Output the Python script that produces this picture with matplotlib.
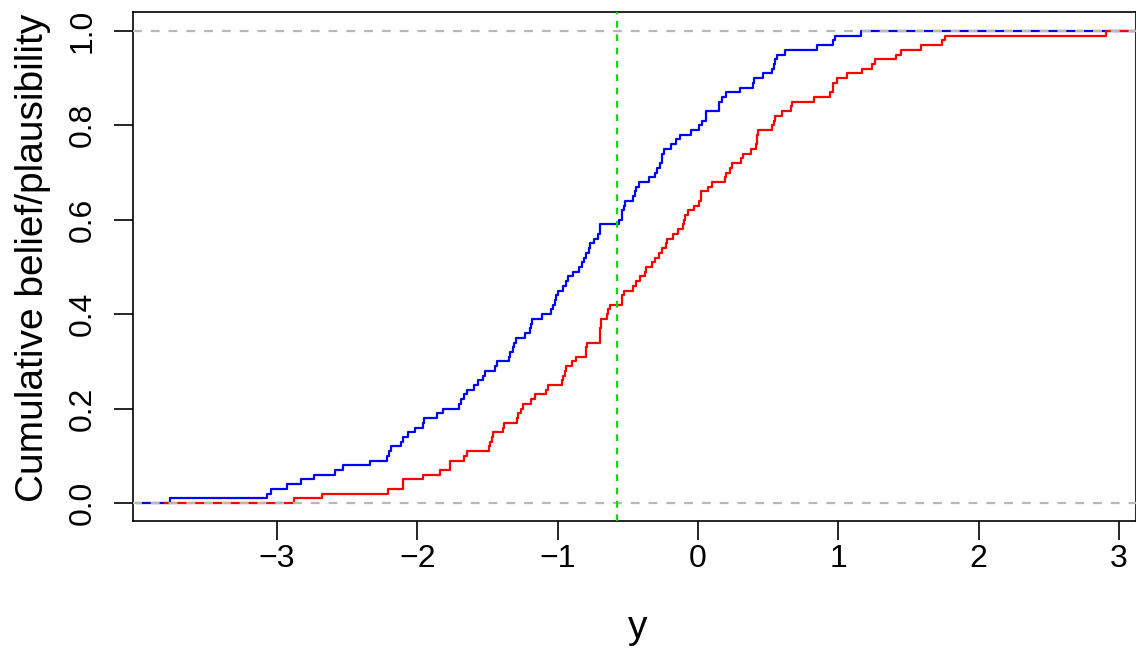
import numpy as np
import matplotlib.pyplot as plt

plt.rcParams['font.family'] = ['Liberation Sans', 'DejaVu Sans']

# sorted focal points (jump locations), 100 each
plaus_x = [-3.76, -3.07, -3.04, -2.93, -2.83, -2.74, -2.59, -2.53, -2.34, -2.22,
           -2.20, -2.19, -2.12, -2.10, -2.07, -2.02, -1.96, -1.95, -1.86, -1.82,
           -1.70, -1.69, -1.67, -1.65, -1.60, -1.57, -1.53, -1.52, -1.45, -1.43,
           -1.35, -1.34, -1.32, -1.31, -1.30, -1.23, -1.20, -1.19, -1.18, -1.11,
           -1.05, -1.03, -1.02, -1.01, -1.00, -0.96, -0.94, -0.93, -0.89, -0.85,
           -0.83, -0.81, -0.80, -0.78, -0.77, -0.74, -0.71, -0.70, -0.70, -0.56,
           -0.54, -0.54, -0.53, -0.52, -0.46, -0.45, -0.44, -0.42, -0.35, -0.31,
           -0.29, -0.27, -0.26, -0.26, -0.24, -0.19, -0.16, -0.13, -0.05, 0.01,
           0.03, 0.06, 0.06, 0.15, 0.15, 0.17, 0.20, 0.30, 0.39, 0.40,
           0.46, 0.53, 0.54, 0.55, 0.56, 0.62, 0.85, 0.96, 0.98, 1.16]

belief_x = [-2.88, -2.68, -2.21, -2.10, -2.10, -1.96, -1.84, -1.77, -1.77, -1.67,
            -1.65, -1.49, -1.48, -1.47, -1.46, -1.39, -1.38, -1.29, -1.28, -1.26,
            -1.25, -1.19, -1.16, -1.08, -1.07, -0.97, -0.96, -0.95, -0.94, -0.90,
            -0.87, -0.80, -0.80, -0.79, -0.70, -0.70, -0.70, -0.69, -0.69, -0.65,
            -0.64, -0.63, -0.54, -0.54, -0.53, -0.46, -0.44, -0.41, -0.38, -0.37,
            -0.33, -0.31, -0.28, -0.26, -0.23, -0.22, -0.18, -0.14, -0.11, -0.10,
            -0.09, -0.07, -0.03, 0.01, 0.02, 0.02, 0.07, 0.10, 0.19, 0.20,
            0.23, 0.24, 0.31, 0.32, 0.38, 0.41, 0.42, 0.42, 0.43, 0.53,
            0.54, 0.55, 0.60, 0.66, 0.67, 0.83, 0.94, 0.96, 0.96, 0.99,
            1.06, 1.17, 1.24, 1.26, 1.41, 1.45, 1.59, 1.74, 1.76, 2.91]

plaus_start, belief_start = -4.0, -3.8
x_end = 3.5
vline_x = -0.58


def step_xy(vals, start):
    vals = np.sort(np.asarray(vals))
    n = len(vals)
    xs = np.concatenate([[start], vals, [x_end]])
    ys = np.concatenate([[0.0], np.arange(1, n + 1) / n, [1.0]])
    return xs, ys


fig = plt.figure(figsize=(11.36, 6.49), dpi=100)
ax = fig.add_axes([0.1171, 0.1972, 0.8829, 0.7843])

xb, yb = step_xy(plaus_x, plaus_start)
xr, yr = step_xy(belief_x, belief_start)
ax.step(xb, yb, where='post', color='blue', lw=1.6, zorder=2)
ax.step(xr, yr, where='post', color='red', lw=1.6, zorder=3)

for h in (0, 1):
    ax.axhline(h, color='#B8B8B8', ls=(0, (4, 4)), lw=1.6, zorder=4)
ax.axvline(vline_x, color='#00E000', ls=(0, (3, 3)), lw=1.6, zorder=4)

ax.set_xlim(-4.027, 3.122)
ax.set_ylim(-0.038, 1.040)
ax.set_xticks([-3, -2, -1, 0, 1, 2, 3])
ax.set_yticks([0, 0.2, 0.4, 0.6, 0.8, 1.0])
ax.set_yticklabels(['0.0', '0.2', '0.4', '0.6', '0.8', '1.0'],
                   rotation=90, va='center')
ax.tick_params(axis='both', direction='out', length=13.5, width=1.2,
               labelsize=23)
ax.tick_params(axis='x', pad=3)
ax.tick_params(axis='y', pad=12)
for s in ax.spines.values():
    s.set_linewidth(1.2)

ax.set_xlabel('y', fontsize=28, va='top')
ax.set_ylabel('Cumulative belief/plausibility', fontsize=28)
ax.xaxis.set_label_coords(0.503, -0.175)
ax.yaxis.set_label_coords(-0.082, 0.518)

fig.savefig('out.png', dpi=100)
